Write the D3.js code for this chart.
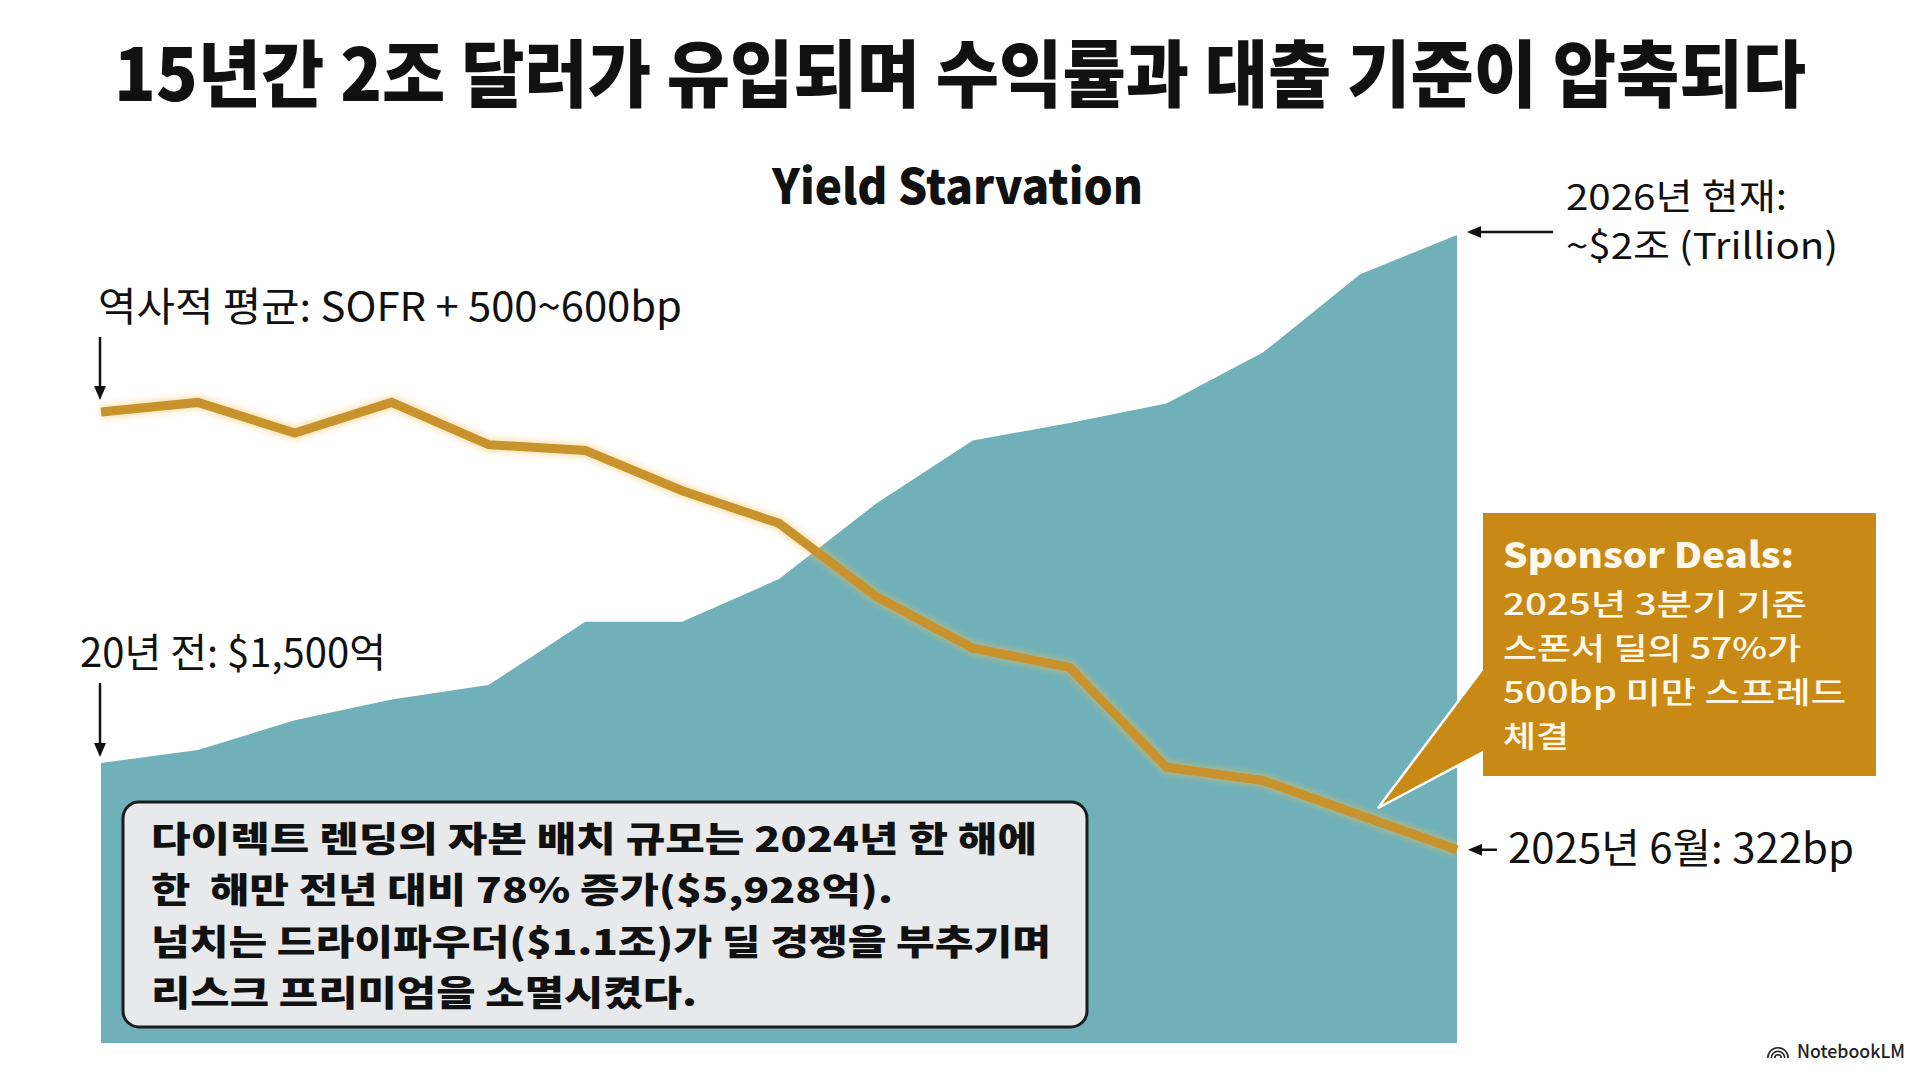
<!DOCTYPE html>
<html>
<head>
<meta charset="utf-8">
<script src="https://cdn.jsdelivr.net/npm/d3@7"></script>
<style>
  html, body { margin: 0; padding: 0; background: #fff; }
  svg { display: block; }
  text { font-family: "Noto Sans CJK KR", "Noto Sans", sans-serif; white-space: pre; }
</style>
</head>
<body>
<svg id="chart" width="1920" height="1072"></svg>
<script>
// years on the x axis (15 points, no axis drawn)
const years = [2011, 2012, 2013, 2014, 2015, 2016, 2017, 2018, 2019, 2020, 2021, 2022, 2023, 2024, 2025];
// private credit capital, $B (area)
const aumBillions = [150, 160, 185, 205, 220, 300, 300, 370, 535, 730, 795, 875, 1125, 1650, 2000];
// direct lending spread over SOFR, bp (line)
const spreadBp = [550, 555, 539, 555, 533, 530, 509, 492, 454, 427, 417, 365, 358, 340, 322];

const title = '15년간 2조 달러가 유입되며 수익률과 대출 기준이 압축되다';
const subtitle = 'Yield Starvation';
const histLabel = '역사적 평균: SOFR + 500~600bp';
const startLabel = '20년 전: $1,500억';
const endAumLabel = ['2026년 현재:', '~$2조 (Trillion)'];
const endSpreadLabel = '2025년 6월: 322bp';
const sponsorHead = 'Sponsor Deals:';
const sponsorLines = ['2025년 3분기 기준', '스폰서 딜의 57%가', '500bp 미만 스프레드', '체결'];
const noteLines = [
  '다이렉트 렌딩의 자본 배치 규모는 2024년 한 해에',
  '한  해만 전년 대비 78% 증가($5,928억).',
  '넘치는 드라이파우더($1.1조)가 딜 경쟁을 부추기며',
  '리스크 프리미엄을 소멸시켰다.'
];

const svg = d3.select('#chart');

const x = d3.scalePoint().domain(years).range([101, 1457]);
const yAum = d3.scaleLog().domain([38, 2000]).range([1043, 235]);
const ySpread = d3.scaleLinear().domain([300, 600]).range([892, 316]);

const defs = svg.append('defs');
const glow = defs.append('filter').attr('id', 'glow')
  .attr('x', '-5%').attr('y', '-5%').attr('width', '110%').attr('height', '110%');
glow.append('feGaussianBlur').attr('stdDeviation', 3);

// title (condensed: smaller size stretched vertically) + subtitle
svg.append('text')
  .attr('transform', 'translate(114,101) scale(1,1.18)')
  .attr('font-size', 62).attr('font-weight', 900)
  .attr('textLength', 1692).attr('lengthAdjust', 'spacingAndGlyphs')
  .attr('fill', '#111')
  .text(title);

svg.append('text')
  .attr('x', 772).attr('y', 204)
  .attr('font-family', 'Inter, Roboto, sans-serif')
  .attr('font-size', 48).attr('font-weight', 800)
  .attr('textLength', 371).attr('lengthAdjust', 'spacingAndGlyphs')
  .attr('fill', '#111')
  .text(subtitle);

// area
const area = d3.area()
  .x((d, i) => x(years[i]))
  .y0(yAum.range()[0])
  .y1(d => yAum(d));

svg.append('path')
  .datum(aumBillions)
  .attr('d', area)
  .attr('fill', '#6fb0b9');

// line with soft glow
const line = d3.line()
  .x((d, i) => x(years[i]))
  .y(d => ySpread(d));

svg.append('path')
  .datum(spreadBp)
  .attr('d', line)
  .attr('fill', 'none')
  .attr('stroke', '#f2c25c')
  .attr('stroke-opacity', 0.45)
  .attr('stroke-width', 14)
  .attr('stroke-linejoin', 'round')
  .attr('filter', 'url(#glow)');

svg.append('path')
  .datum(spreadBp)
  .attr('d', line)
  .attr('fill', 'none')
  .attr('stroke', '#c8922c')
  .attr('stroke-width', 9)
  .attr('stroke-linejoin', 'miter');

// arrows
function arrow(x1, y1, x2, y2) {
  const a = Math.atan2(y2 - y1, x2 - x1);
  const hl = 14, hw = 6;
  const bx = x2 - hl * Math.cos(a), by = y2 - hl * Math.sin(a);
  svg.append('line')
    .attr('x1', x1).attr('y1', y1).attr('x2', bx).attr('y2', by)
    .attr('stroke', '#111').attr('stroke-width', 2.5);
  svg.append('path')
    .attr('d', `M${x2},${y2}L${bx - hw * Math.sin(a)},${by + hw * Math.cos(a)}L${bx + hw * Math.sin(a)},${by - hw * Math.cos(a)}Z`)
    .attr('fill', '#111');
}

const x0 = x(years[0]);
const xN = x(years[years.length - 1]);

// left annotations
svg.append('text')
  .attr('x', 98).attr('y', 321)
  .attr('font-size', 40)
  .attr('textLength', 584).attr('lengthAdjust', 'spacingAndGlyphs')
  .attr('fill', '#111')
  .text(histLabel);
arrow(x0 - 1, 337, x0 - 1, ySpread(spreadBp[0]) - 12);

svg.append('text')
  .attr('x', 80).attr('y', 667)
  .attr('font-size', 40)
  .attr('textLength', 306).attr('lengthAdjust', 'spacingAndGlyphs')
  .attr('fill', '#111')
  .text(startLabel);
arrow(x0 - 1, 683, x0 - 1, yAum(aumBillions[0]) - 6);

// right annotations
arrow(1553, yAum(aumBillions[aumBillions.length - 1]) - 3, xN + 10, yAum(aumBillions[aumBillions.length - 1]) - 3);
svg.append('text')
  .attr('x', 1566).attr('y', 210)
  .attr('font-size', 36)
  .attr('textLength', 221).attr('lengthAdjust', 'spacingAndGlyphs')
  .attr('fill', '#111')
  .text(endAumLabel[0]);
svg.append('text')
  .attr('x', 1566).attr('y', 259)
  .attr('font-size', 36)
  .attr('textLength', 272).attr('lengthAdjust', 'spacingAndGlyphs')
  .attr('fill', '#111')
  .text(endAumLabel[1]);

arrow(1497, ySpread(spreadBp[spreadBp.length - 1]), xN + 11, ySpread(spreadBp[spreadBp.length - 1]));
svg.append('text')
  .attr('x', 1508).attr('y', 863)
  .attr('font-size', 41)
  .attr('textLength', 346).attr('lengthAdjust', 'spacingAndGlyphs')
  .attr('fill', '#111')
  .text(endSpreadLabel);

// sponsor callout
const box = { x: 1483, y: 513, w: 393, h: 263 };
svg.append('path')
  .attr('d', `M${box.x + 4},${663}L1378,808L${box.x + 4},750Z`)
  .attr('fill', '#c88a14')
  .attr('stroke', '#fff')
  .attr('stroke-width', 2.5)
  .attr('stroke-linejoin', 'miter');
svg.append('rect')
  .attr('x', box.x).attr('y', box.y).attr('width', box.w).attr('height', box.h)
  .attr('fill', '#c88a14');

svg.append('text')
  .attr('x', 1503).attr('y', 568)
  .attr('font-family', 'Inter, "Noto Sans", sans-serif')
  .attr('font-size', 35).attr('font-weight', 800)
  .attr('textLength', 291).attr('lengthAdjust', 'spacingAndGlyphs')
  .attr('fill', '#fff8ec')
  .text(sponsorHead);

const sponsorBase = [615, 659, 703, 747];
const sponsorWidths = [304, 298, 343, 66];
svg.selectAll('.sponsor')
  .data(sponsorLines)
  .join('text')
  .attr('class', 'sponsor')
  .attr('x', 1503)
  .attr('y', (d, i) => sponsorBase[i])
  .attr('font-size', 30).attr('font-weight', 500)
  .attr('textLength', (d, i) => sponsorWidths[i]).attr('lengthAdjust', 'spacingAndGlyphs')
  .attr('fill', '#fff8ec')
  .text(d => d);

// note box
svg.append('rect')
  .attr('x', 123).attr('y', 802).attr('width', 964).attr('height', 225)
  .attr('rx', 16)
  .attr('fill', '#e7e9eb')
  .attr('stroke', '#1c1c1c')
  .attr('stroke-width', 3);

const noteBase = [852, 903, 955, 1006];
const noteWidths = [886, 742, 900, 546];
svg.selectAll('.note')
  .data(noteLines)
  .join('text')
  .attr('class', 'note')
  .attr('x', 151)
  .attr('y', (d, i) => noteBase[i])
  .attr('font-size', 35).attr('font-weight', 900)
  .attr('textLength', (d, i) => noteWidths[i]).attr('lengthAdjust', 'spacingAndGlyphs')
  .attr('fill', '#111')
  .text(d => d);

// NotebookLM mark
const logo = svg.append('g').attr('transform', 'translate(1778,1058)');
[4, 7.5, 11].forEach(r => {
  logo.append('path')
    .attr('d', d3.arc()({ innerRadius: r - 1.6, outerRadius: r, startAngle: -Math.PI / 2, endAngle: Math.PI / 2 }))
    .attr('fill', '#222');
});
svg.append('text')
  .attr('x', 1797).attr('y', 1058)
  .attr('font-family', 'Inter, "Noto Sans", sans-serif')
  .attr('font-size', 18).attr('font-weight', 500)
  .attr('textLength', 108).attr('lengthAdjust', 'spacingAndGlyphs')
  .attr('fill', '#222')
  .text('NotebookLM');
</script>
</body>
</html>
